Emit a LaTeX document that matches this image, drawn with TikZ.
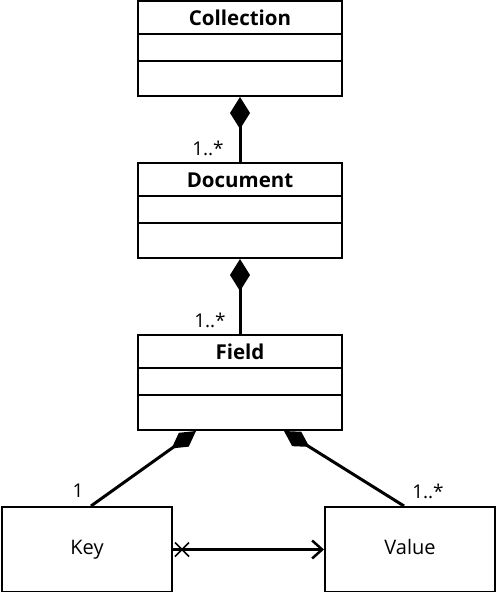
\documentclass[tikz,border=0pt]{standalone}
\usepackage{fontspec}
\setmainfont{Open Sans}
\usetikzlibrary{arrows.meta}
\begin{document}
\begin{tikzpicture}[x=1pt,y=-1pt,
  cls/.style={draw,line width=2pt,minimum width=204pt,minimum height=95pt,inner sep=0pt},
  ttl/.style={font=\fontsize{20.5}{24}\selectfont\bfseries,inner sep=0pt},
  plain/.style={draw,line width=2pt,minimum width=170pt,minimum height=85pt,inner sep=0pt,text height=14pt,text depth=4pt,font=\fontsize{20}{24}\selectfont},
  comp/.style={line width=3pt,{Diamond[length=32pt,width=20pt]}-},
  comp2/.style={line width=3pt,{Diamond[length=30pt,width=17pt]}-},
  mult/.style={font=\fontsize{19}{22}\selectfont,inner sep=0pt},
  sep/.style={line width=2pt},
  assoc/.style={line width=2.5pt,-{Straight Barb[length=10pt,width=18pt]}}]
\useasboundingbox (0,0) rectangle (496,592);
% classes
\node[cls] (coll) at (240,48.5) {};
\node[ttl] (collT) at (240,18) {Collection};
\draw[sep] ([yshift=-34pt]coll.north west) -- ([yshift=-34pt]coll.north east);
\draw[sep] ([yshift=-61pt]coll.north west) -- ([yshift=-61pt]coll.north east);

\node[cls] (doc) at (240,210.5) {};
\node[ttl] (docT) at (240,180) {Document};
\draw[sep] ([yshift=-34pt]doc.north west) -- ([yshift=-34pt]doc.north east);
\draw[sep] ([yshift=-61pt]doc.north west) -- ([yshift=-61pt]doc.north east);

\node[cls] (field) at (240,382.5) {};
\node[ttl] (fieldT) at (240,352) {Field};
\draw[sep] ([yshift=-34pt]field.north west) -- ([yshift=-34pt]field.north east);
\draw[sep] ([yshift=-61pt]field.north west) -- ([yshift=-61pt]field.north east);

\node[plain] (key) at (87,549.5) {Key};
\node[plain] (value) at (410,549.5) {Value};

% compositions
\draw[comp] (coll.south) -- (doc.north);
\draw[comp] (doc.south) -- (field.north);
\draw[comp2] ([xshift=59pt]field.south west) -- ([xshift=90pt]key.north west);
\draw[comp2] ([xshift=-59pt]field.south east) -- ([xshift=80pt]value.north west);

% multiplicities
\node[mult] (m1) at (208,148) {1..*};
\node[mult] (m2) at (210,320) {1..*};
\node[mult] (m3) at (78,491) {1};
\node[mult] (m4) at (428,491) {1..*};

% navigable association
\draw[assoc] (key.east) -- (value.west);
\coordinate (xc) at ([xshift=9pt]key.east);
\draw[line width=1.5pt] ([shift={(-7pt,-7pt)}]xc) -- ([shift={(7pt,7pt)}]xc);
\draw[line width=1.5pt] ([shift={(-7pt,7pt)}]xc) -- ([shift={(7pt,-7pt)}]xc);
\end{tikzpicture}
\end{document}
